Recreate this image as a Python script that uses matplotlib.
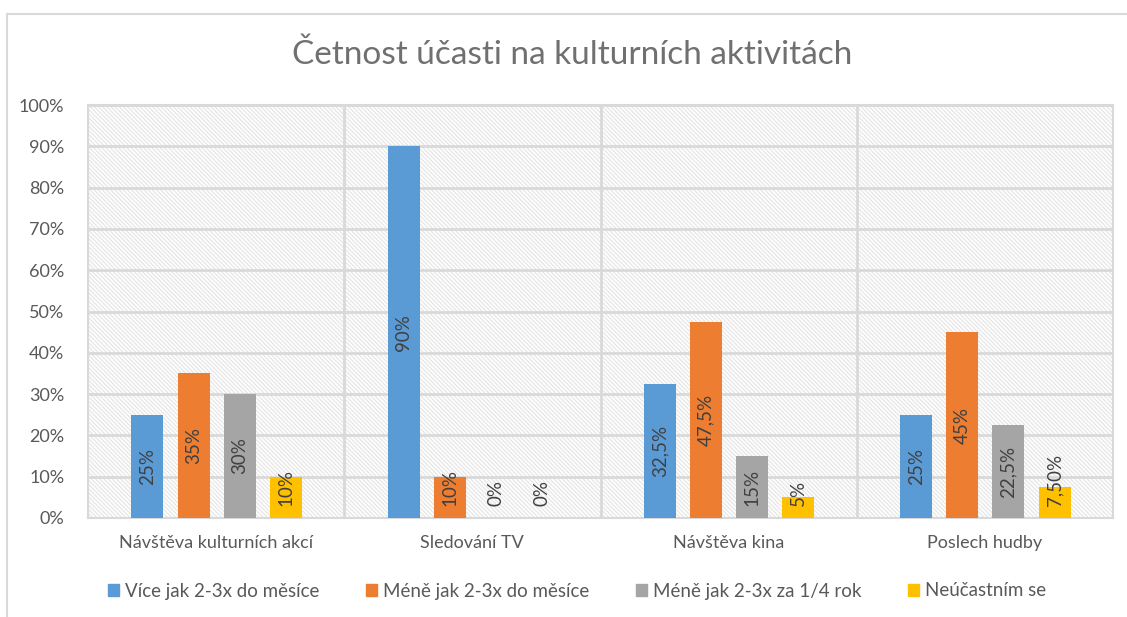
import matplotlib
matplotlib.use("Agg")
import matplotlib.pyplot as plt
from matplotlib.lines import Line2D
from matplotlib.patches import Rectangle
import numpy as np

plt.rcParams['font.family'] = ['Lato', 'DejaVu Sans']
plt.rcParams['hatch.linewidth'] = 0.9

categories = ["Návštěva kulturních akcí", "Sledování TV", "Návštěva kina", "Poslech hudby"]
series_names = ["Více jak 2-3x do měsíce", "Méně jak 2-3x do měsíce",
                "Méně jak 2-3x za 1/4 rok", "Neúčastním se"]
vals_vice = [25, 90, 32.5, 25]
vals_mene = [35, 10, 47.5, 45]
vals_ctvrt = [30, 0, 15, 22.5]
vals_ne = [10, 0, 5, 7.5]
labels_vice = ["25%", "90%", "32,5%", "25%"]
labels_mene = ["35%", "10%", "47,5%", "45%"]
labels_ctvrt = ["30%", "0%", "15%", "22,5%"]
labels_ne = ["10%", "0%", "5%", "7,50%"]
y_ticks = [0, 10, 20, 30, 40, 50, 60, 70, 80, 90, 100]
y_tick_labels = ["0%", "10%", "20%", "30%", "40%", "50%", "60%", "70%", "80%", "90%", "100%"]

colors = ["#5B9BD5", "#ED7D31", "#A5A5A5", "#FFC000"]
series = [vals_vice, vals_mene, vals_ctvrt, vals_ne]
labels = [labels_vice, labels_mene, labels_ctvrt, labels_ne]

W, H = 1127, 617
fig = plt.figure(figsize=(W / 100, H / 100), dpi=100)
fig.patch.set_facecolor('white')

# outer chart border (left and top visible)
fig.add_artist(Line2D([7 / W, 7 / W], [0, 1 - 14 / H], color='#d9d9d9', lw=1.5,
                      transform=fig.transFigure))
fig.add_artist(Line2D([7 / W, 1], [1 - 14 / H, 1 - 14 / H], color='#d9d9d9', lw=1.5,
                      transform=fig.transFigure))

left, right, top, bottom = 88, 1113, 105, 518
ax = fig.add_axes([left / W, 1 - bottom / H, (right - left) / W, (bottom - top) / H])
ax.set_facecolor('white')
ax.add_patch(Rectangle((0, 0), 1, 1, transform=ax.transAxes, facecolor='white',
                       edgecolor='#e6e6e6', linewidth=0, hatch='\\' * 8, zorder=0))

x = np.arange(len(categories))
offsets = [-0.268, -0.088, 0.092, 0.272]
width = 0.125
ax.set_xlim(-0.5, len(categories) - 0.5)
ax.set_ylim(0, 100)

for yt in y_ticks:
    ax.axhline(yt, color='#d9d9d9', lw=2, zorder=1)
for xb in np.arange(0.5, len(categories) - 0.5, 1):
    ax.axvline(xb, color='#d9d9d9', lw=2, zorder=1)

for s, vals, col, off in zip(series_names, series, colors, offsets):
    ax.bar(x + off, vals, width, color=col, label=s, zorder=3)

ax.set_yticks(y_ticks)
ax.set_yticklabels(y_tick_labels, fontsize=13, color='#595959')
ax.set_xticks(x)
ax.set_xticklabels(categories, fontsize=13, color='#595959')
ax.tick_params(axis='both', length=0)
ax.tick_params(axis='y', pad=17)
ax.tick_params(axis='x', pad=12)
for sp in ax.spines.values():
    sp.set_color('#d9d9d9')
    sp.set_linewidth(1.5)

# data labels
fig.canvas.draw()
renderer = fig.canvas.get_renderer()
inv = ax.transData.inverted()
for vals, labs, off in zip(series, labels, offsets):
    for xi, v, lab in zip(x, vals, labs):
        t = ax.text(xi + off, v / 2, lab, rotation=90, ha='center', va='center',
                    fontsize=13.5, color='#404040', zorder=5)
        bb = t.get_window_extent(renderer)
        (x0, y0), (x1, y1) = inv.transform([[bb.x0, bb.y0], [bb.x1, bb.y1]])
        half = (y1 - y0) / 2
        if v / 2 - half < 3:
            t.set_y(3 + half)

fig.text(0.508, 1 - 55 / H, "Četnost účasti na kulturních aktivitách", ha='center', va='center',
         fontsize=24, color='#707070', fontweight='normal')

handles = [Rectangle((0, 0), 1, 1, color=c) for c in colors]
leg = fig.legend(handles, series_names, loc='center', bbox_to_anchor=(0.512, 1 - 591 / H),
                 ncol=4, frameon=False, fontsize=13.5, handlelength=0.6, handleheight=0.6,
                 handletextpad=0.3, columnspacing=2.5)
for txt in leg.get_texts():
    txt.set_color('#595959')

fig.savefig("out.png", dpi=100, facecolor='white')
